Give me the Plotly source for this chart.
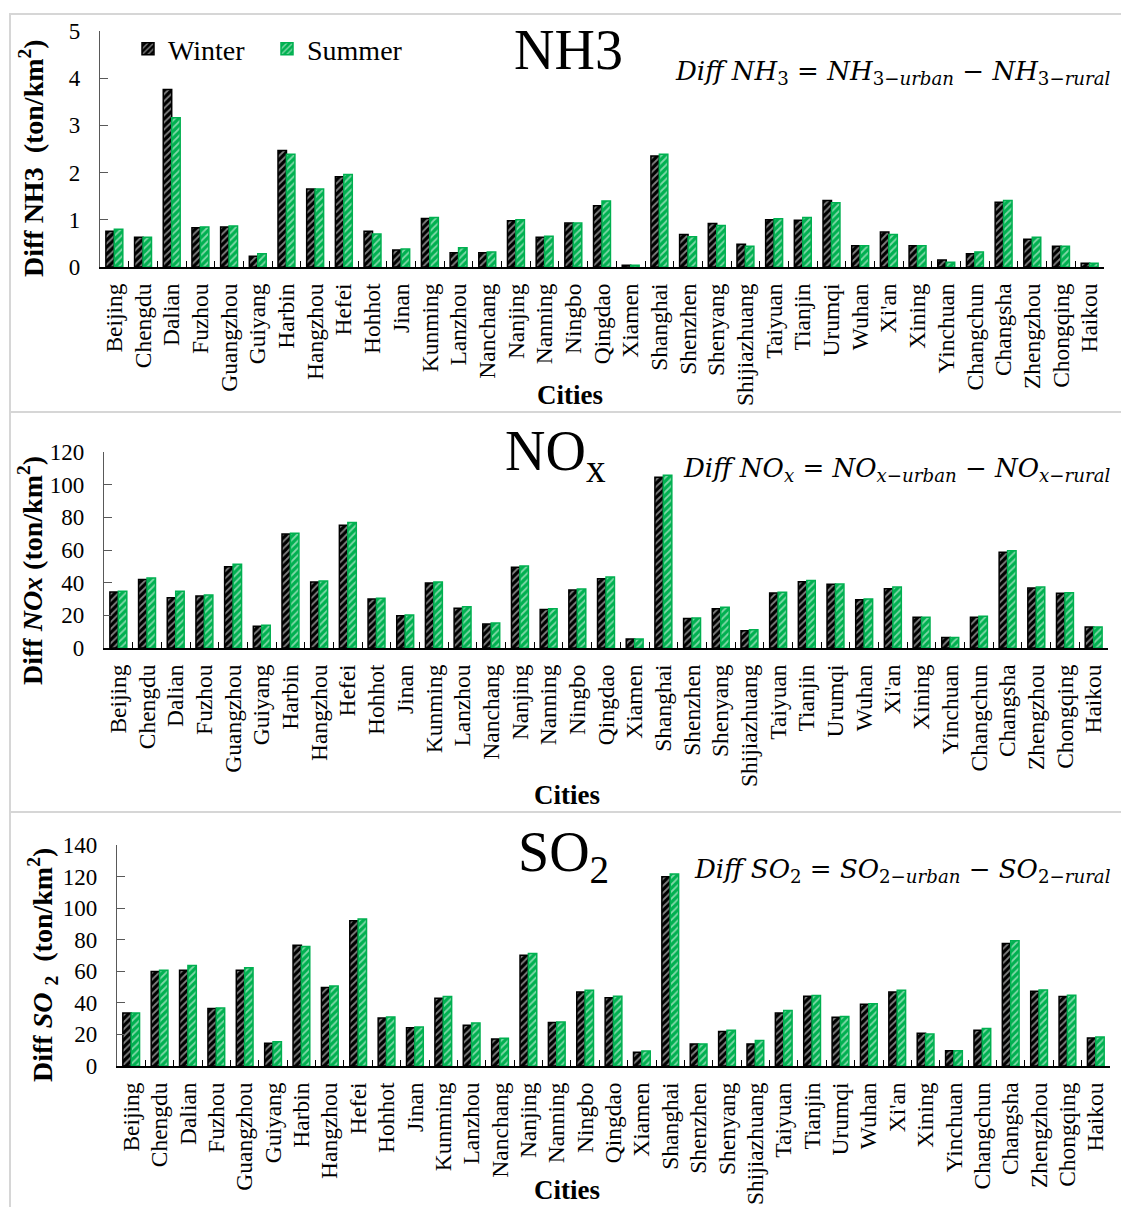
import plotly.graph_objects as go

W, H = 1121, 1207

cities = ["Beijing", "Chengdu", "Dalian", "Fuzhou", "Guangzhou", "Guiyang", "Harbin",
          "Hangzhou", "Hefei", "Hohhot", "Jinan", "Kunming", "Lanzhou", "Nanchang",
          "Nanjing", "Nanning", "Ningbo", "Qingdao", "Xiamen", "Shanghai", "Shenzhen",
          "Shenyang", "Shijiazhuang", "Taiyuan", "Tianjin", "Urumqi", "Wuhan", "Xi'an",
          "Xining", "Yinchuan", "Changchun", "Changsha", "Zhengzhou", "Chongqing", "Haikou"]

nh3_winter = [0.76, 0.63, 3.76, 0.83, 0.85, 0.23, 2.47, 1.65, 1.91, 0.76, 0.36, 1.03,
              0.30, 0.30, 0.98, 0.63, 0.93, 1.30, 0.035, 2.35, 0.69, 0.92, 0.48, 1.00,
              0.99, 1.41, 0.45, 0.74, 0.45, 0.15, 0.28, 1.37, 0.59, 0.44, 0.08]
nh3_summer = [0.80, 0.63, 3.16, 0.85, 0.87, 0.28, 2.39, 1.65, 1.96, 0.70, 0.38, 1.05,
              0.41, 0.32, 1.00, 0.65, 0.93, 1.40, 0.035, 2.39, 0.64, 0.88, 0.44, 1.02,
              1.05, 1.36, 0.45, 0.69, 0.45, 0.10, 0.32, 1.41, 0.63, 0.44, 0.08]

nox_winter = [34.3, 42.0, 30.8, 31.8, 49.8, 13.3, 69.8, 40.4, 75.1, 30.0, 19.8, 39.8,
              24.3, 14.7, 49.4, 23.5, 35.5, 42.4, 5.5, 104.5, 18.0, 24.1, 10.6, 33.7,
              40.6, 39.0, 29.6, 36.3, 18.8, 6.5, 18.8, 58.6, 36.7, 33.5, 12.9]
nox_summer = [34.7, 42.9, 34.7, 32.4, 51.2, 13.9, 70.2, 41.0, 76.9, 30.4, 20.2, 40.4,
              25.3, 15.3, 50.2, 24.1, 36.1, 43.5, 5.5, 105.7, 18.4, 24.9, 11.2, 34.1,
              41.4, 39.2, 30.0, 37.3, 18.8, 6.5, 19.4, 59.6, 37.3, 33.9, 12.9]

so2_winter = [33.6, 59.8, 60.7, 36.4, 60.7, 14.4, 76.5, 49.7, 92.0, 30.4, 24.3, 42.9,
              25.8, 17.1, 70.2, 27.5, 46.9, 43.3, 8.7, 119.9, 14.0, 21.8, 14.0, 33.6,
              44.2, 30.9, 39.1, 46.9, 20.7, 9.7, 22.6, 77.6, 47.4, 44.0, 17.8]
so2_summer = [33.6, 60.7, 63.6, 36.8, 62.2, 15.4, 75.7, 50.7, 93.2, 31.1, 24.7, 44.0,
              27.3, 17.5, 71.2, 27.9, 48.0, 44.2, 9.5, 121.6, 14.0, 22.6, 16.1, 35.1,
              44.6, 31.3, 39.5, 48.0, 20.3, 9.7, 23.7, 79.3, 48.2, 44.8, 18.4]

y_ticks_nh3 = [0, 1, 2, 3, 4, 5]
y_ticks_nox = [0, 20, 40, 60, 80, 100, 120]
y_ticks_so2 = [0, 20, 40, 60, 80, 100, 120, 140]

GREEN = "#00B050"
SERIF = "Liberation Serif"


def px_x(v):
    return v / W


def px_y(v):
    return 1 - v / H


def bar(name, values, color, xa, ya, show):
    return go.Bar(
        name=name, x=cities, y=values, xaxis=xa, yaxis=ya, showlegend=show,
        legendgroup=name,
        marker=dict(color=color, line=dict(color=color, width=1.5),
                    pattern=dict(shape="/", fgcolor="white", bgcolor=color,
                                 fillmode="overlay", size=5, solidity=0.35)),
    )


fig = go.Figure()
fig.add_trace(bar("Winter", nh3_winter, "black", "x", "y", True))
fig.add_trace(bar("Summer", nh3_summer, GREEN, "x", "y", True))
fig.add_trace(bar("Winter", nox_winter, "black", "x2", "y2", False))
fig.add_trace(bar("Summer", nox_summer, GREEN, "x2", "y2", False))
fig.add_trace(bar("Winter", so2_winter, "black", "x3", "y3", False))
fig.add_trace(bar("Summer", so2_summer, GREEN, "x3", "y3", False))

# panel geometry: (x axis start, x axis end, y of top tick, y of zero line)
panels = [
    (100, 1104, 31, 267, 5, y_ticks_nh3),
    (104, 1108, 452, 648, 120, y_ticks_nox),
    (117, 1110, 845, 1066, 140, y_ticks_so2),
]

tickfont = dict(family=SERIF, size=23, color="black")
for i, (x0, x1, yt, yb, ymax, yticks) in enumerate(panels):
    sfx = "" if i == 0 else str(i + 1)
    fig.layout["xaxis" + sfx] = dict(
        domain=[px_x(x0), px_x(x1)], anchor="y" + sfx, type="category",
        tickmode="array", tickvals=cities, ticktext=cities,
        showline=True, linecolor="black", linewidth=2, automargin=False,
        ticks="inside", tickson="boundaries", ticklen=6, tickcolor="black",
        tickangle=-90, tickfont=dict(family=SERIF, size=23.5, color="black"),
        ticklabelstandoff=5, showgrid=False, zeroline=False, fixedrange=True,
    )
    fig.layout["yaxis" + sfx] = dict(
        domain=[px_y(yb), px_y(yt)], anchor="x" + sfx, range=[0, ymax],
        tickvals=yticks, showline=True, linecolor="#595959", linewidth=1.2,
        automargin=False,
        ticks="inside", ticklen=8, tickcolor="#595959", tickfont=tickfont,
        ticklabelstandoff=14, showgrid=False, zeroline=False,
    )

annotations = []


def note(text, x, y, size, xanchor="center", yanchor="middle", angle=0, family=SERIF):
    annotations.append(dict(
        text=text, x=px_x(x), y=px_y(y), xref="paper", yref="paper",
        xanchor=xanchor, yanchor=yanchor, textangle=angle, showarrow=False,
        font=dict(family=family, size=size, color="black"),
    ))


# y-axis titles
note("<b>Diff NH3&nbsp;&nbsp;(ton/km<sup>2</sup>)</b>", 31, 158, 28, angle=-90)
note("<b>Diff <i>NOx</i> (ton/km<sup>2</sup>)</b>", 30, 571, 28, angle=-90)
note("<b>Diff <i>SO</i> <sub>2</sub>&nbsp;&nbsp;(ton/km<sup>2</sup>)</b>", 42, 965, 28, angle=-90)

# x-axis titles
note("<b>Cities</b>", 570, 395, 27)
note("<b>Cities</b>", 567, 795, 27)
note("<b>Cities</b>", 567, 1190, 27)

# panel titles
note("NH3", 568, 50, 56)
note("NO<sub>x</sub>", 555, 455, 56)
note("SO<sub>2</sub>", 563, 856, 56)

# definitions of the differences
MATH = "DejaVu Serif"
note("<i>Diff NH</i><sub>3</sub> = <i>NH</i><sub>3−<i>urban</i></sub> − <i>NH</i><sub>3−<i>rural</i></sub>",
     1113, 72, 26, xanchor="right", family=MATH)
note("<i>Diff NO</i><sub><i>x</i></sub> = <i>NO</i><sub><i>x−urban</i></sub> − <i>NO</i><sub><i>x−rural</i></sub>",
     1113, 470, 26, xanchor="right", family=MATH)
note("<i>Diff SO</i><sub>2</sub> = <i>SO</i><sub>2−<i>urban</i></sub> − <i>SO</i><sub>2−<i>rural</i></sub>",
     1113, 870, 26, xanchor="right", family=MATH)

# light frames around each panel
shapes = []
for top, bottom in [(14, 412), (412, 812), (812, 1215)]:
    shapes.append(dict(type="rect", xref="paper", yref="paper",
                       x0=px_x(10), x1=px_x(1130), y0=px_y(bottom), y1=px_y(top),
                       line=dict(color="#d6d6d6", width=2), fillcolor="rgba(0,0,0,0)"))

fig.update_layout(
    width=W, height=H, margin=dict(l=0, r=0, t=0, b=0, autoexpand=False),
    paper_bgcolor="white", plot_bgcolor="white",
    barmode="group", bargap=0.41, bargroupgap=0,
    font=dict(family=SERIF, color="black"),
    annotations=annotations, shapes=shapes,
    legend=dict(orientation="h", x=px_x(128), y=px_y(24), xanchor="left", yanchor="top",
                font=dict(family=SERIF, size=28, color="black"),
                bgcolor="rgba(0,0,0,0)", itemwidth=30, tracegroupgap=0,
                entrywidth=94),
)

fig.write_html("out.html")
